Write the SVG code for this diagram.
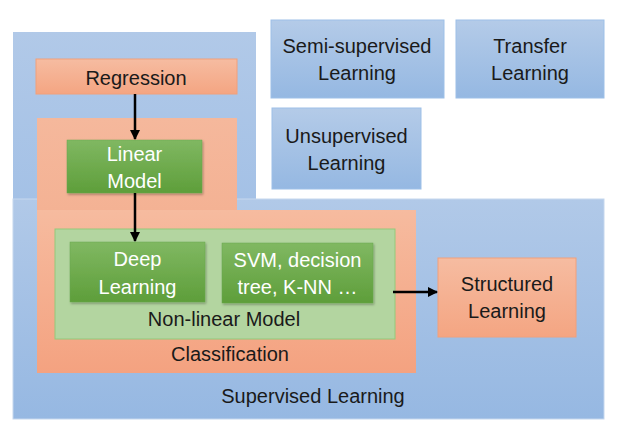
<svg xmlns="http://www.w3.org/2000/svg" width="626" height="425" viewBox="0 0 626 425">
<style>
text{font-family:"Liberation Sans",Arial,sans-serif;font-size:20px;text-anchor:middle;fill:#1a1a1a}
.w{fill:#ffffff}
.blue{fill:url(#gBlue);stroke:#9dc0e8;stroke-width:1}
.org{fill:url(#gOrg);stroke:#f2a07a;stroke-width:1}
.grn{fill:url(#gGrn);stroke:#6aa84f;stroke-width:0.5;filter:url(#sh)}
.conn{stroke:#000;stroke-width:2.5;fill:none;marker-end:url(#arr)}
</style>
<defs>
<linearGradient id="gBlue" x1="0" y1="0" x2="0" y2="1"><stop offset="0" stop-color="#b4cbe8"/><stop offset="1" stop-color="#95b8e2"/></linearGradient>
<linearGradient id="gBigTop" gradientUnits="userSpaceOnUse" x1="0" y1="32" x2="0" y2="200"><stop offset="0" stop-color="#b1c9e8"/><stop offset="1" stop-color="#a4c1e6"/></linearGradient>
<linearGradient id="gBigBot" gradientUnits="userSpaceOnUse" x1="0" y1="199" x2="0" y2="419"><stop offset="0" stop-color="#b1c9e8"/><stop offset="1" stop-color="#96b8e2"/></linearGradient>
<linearGradient id="gOrg" x1="0" y1="0" x2="0" y2="1"><stop offset="0" stop-color="#f6bca1"/><stop offset="1" stop-color="#f4a582"/></linearGradient>
<linearGradient id="gClsTop" gradientUnits="userSpaceOnUse" x1="0" y1="118" x2="0" y2="210"><stop offset="0" stop-color="#f5b89c"/><stop offset="1" stop-color="#f4b294"/></linearGradient>
<linearGradient id="gClsBot" gradientUnits="userSpaceOnUse" x1="0" y1="210" x2="0" y2="373"><stop offset="0" stop-color="#f6bb9f"/><stop offset="1" stop-color="#f4a280"/></linearGradient>
<linearGradient id="gGrn" x1="0" y1="0" x2="0" y2="1"><stop offset="0" stop-color="#80b862"/><stop offset="1" stop-color="#5e9e3a"/></linearGradient>
<filter id="sh" x="-10%" y="-10%" width="130%" height="130%"><feDropShadow dx="1" dy="1.5" stdDeviation="1" flood-color="#000" flood-opacity="0.3"/></filter>
<marker id="arr" viewBox="0 0 10 10" refX="9" refY="5" markerWidth="4" markerHeight="4" orient="auto"><path d="M0,0 L10,5 L0,10 z" fill="#000"/></marker>
</defs>

<g id="supervised">
<rect x="13" y="32" width="243" height="168" fill="url(#gBigTop)"/>
<rect x="13" y="199" width="591" height="220" fill="url(#gBigBot)" stroke="#c5d7ee" stroke-width="1"/>
<text x="313" y="403">Supervised Learning</text>
</g>

<g id="semi">
<rect class="blue" x="271" y="20" width="173" height="78"/>
<text x="357" y="53">Semi-supervised</text>
<text x="357" y="80">Learning</text>
</g>
<g id="transfer">
<rect class="blue" x="456" y="20" width="148" height="78"/>
<text x="530" y="53">Transfer</text>
<text x="530" y="80">Learning</text>
</g>
<g id="unsupervised">
<rect class="blue" x="272" y="108" width="149" height="81"/>
<text x="346.5" y="143">Unsupervised</text>
<text x="346.5" y="170">Learning</text>
</g>

<g id="regression">
<rect class="org" x="36" y="59" width="201" height="35"/>
<text x="136" y="85">Regression</text>
</g>

<g id="classification">
<rect x="37" y="118" width="200" height="93" fill="url(#gClsTop)"/>
<rect x="37" y="210" width="379" height="163" fill="url(#gClsBot)"/>
<text x="230" y="361">Classification</text>
</g>

<g id="linear">
<rect class="grn" x="67" y="140" width="135" height="53"/>
<text class="w" x="134.5" y="161">Linear</text>
<text class="w" x="134.5" y="188">Model</text>
</g>

<g id="nonlinear">
<rect x="55" y="229" width="340" height="110" fill="#b3d5a0" stroke="#93c97a" stroke-width="1"/>
<text x="224" y="326">Non-linear Model</text>
</g>

<g id="deep">
<rect class="grn" x="70" y="242" width="135" height="60"/>
<text class="w" x="137.5" y="266">Deep</text>
<text class="w" x="137.5" y="294">Learning</text>
</g>

<g id="svm">
<rect class="grn" x="222" y="243" width="151" height="60"/>
<text class="w" x="297.5" y="267">SVM, decision</text>
<text class="w" x="297.5" y="294">tree, K-NN …</text>
</g>

<g id="structured">
<rect class="org" x="438" y="258" width="138" height="79"/>
<text x="507" y="291">Structured</text>
<text x="507" y="318">Learning</text>
</g>

<g id="connectors">
<line class="conn" x1="135" y1="94" x2="135" y2="139"/>
<line class="conn" x1="135" y1="193" x2="135" y2="241"/>
<line class="conn" x1="393" y1="292" x2="437" y2="292"/>
</g>
</svg>
